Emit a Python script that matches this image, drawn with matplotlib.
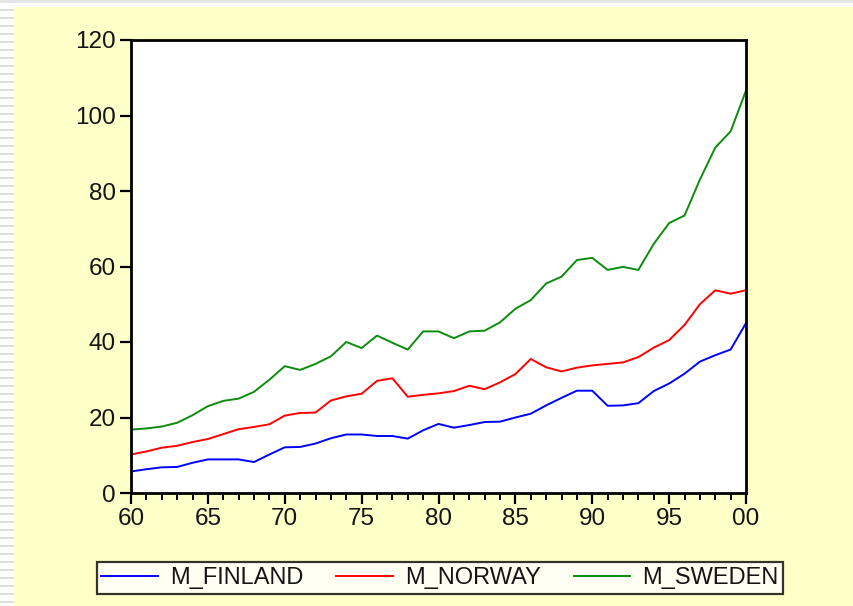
import numpy as np
import matplotlib.pyplot as plt
from matplotlib.patches import Rectangle

plt.rcParams['font.family'] = ['Liberation Sans', 'DejaVu Sans']

# 数据 (1960-2000)
years = np.arange(1960, 2001)
m_finland = [5.7, 6.3, 6.8, 6.9, 8.0, 8.9, 8.9, 8.9, 8.2, 10.2,
             12.1, 12.2, 13.1, 14.5, 15.5, 15.5, 15.1, 15.1, 14.4, 16.6,
             18.3, 17.3, 18.0, 18.8, 18.9, 20.0, 21.0, 23.2, 25.2, 27.1,
             27.1, 23.1, 23.2, 23.8, 27.0, 29.0, 31.6, 34.8, 36.5, 38.0,
             45.0]
m_norway = [10.2, 11.0, 12.0, 12.5, 13.5, 14.3, 15.6, 16.9, 17.5, 18.2,
            20.5, 21.2, 21.3, 24.5, 25.6, 26.3, 29.7, 30.4, 25.5, 26.0,
            26.4, 27.0, 28.4, 27.5, 29.3, 31.5, 35.5, 33.3, 32.2, 33.2,
            33.8, 34.2, 34.6, 36.0, 38.5, 40.5, 44.5, 50.0, 53.7, 52.8,
            53.7]
m_sweden = [16.8, 17.1, 17.6, 18.6, 20.6, 23.0, 24.4, 25.0, 26.8, 30.0,
            33.6, 32.6, 34.2, 36.2, 40.0, 38.4, 41.7, 39.8, 38.0, 42.8,
            42.8, 41.0, 42.8, 43.0, 45.2, 48.8, 51.1, 55.5, 57.3, 61.7,
            62.3, 59.1, 59.9, 59.1, 66.0, 71.5, 73.5, 83.0, 91.5, 95.8,
            106.6]
names = ['M_FINLAND', 'M_NORWAY', 'M_SWEDEN']
colors = ['#0000ff', '#ff0000', '#0c8c0c']

xticks = [1960, 1965, 1970, 1975, 1980, 1985, 1990, 1995, 2000]
xtext = ['60', '65', '70', '75', '80', '85', '90', '95', '00']
yticks = [0, 20, 40, 60, 80, 100, 120]

fig = plt.figure(figsize=(8.54, 6.06), dpi=100)
fig.patch.set_facecolor('#ffffc8')

# 左侧和顶部的窗口边框
fig.patches.append(Rectangle((0, 0), 14 / 854, 1, transform=fig.transFigure,
                             facecolor='white', edgecolor='none', zorder=0))
for k in range(0, 606, 8):
    fig.patches.append(Rectangle((0, 1 - (k + 3) / 606), 14 / 854, 2 / 606,
                                 transform=fig.transFigure,
                                 facecolor='#dcdcdc', edgecolor='none', zorder=0))
fig.patches.append(Rectangle((0, 1 - 7 / 606), 1, 7 / 606, transform=fig.transFigure,
                             facecolor='white', edgecolor='none', zorder=0))
fig.patches.append(Rectangle((0, 1 - 3 / 606), 1, 3 / 606, transform=fig.transFigure,
                             facecolor='#e6e6e6', edgecolor='none', zorder=0))

ax = fig.add_axes([131 / 854, 1 - 493 / 606, 615 / 854, 453 / 606])
ax.set_facecolor('white')

for y, name, c in zip([m_finland, m_norway, m_sweden], names, colors):
    ax.plot(years, y, color=c, linewidth=1.4, label=name)

ax.set_xlim(1960, 2000)
ax.set_ylim(0, 120)
ax.set_xticks(xticks)
ax.set_xticklabels(xtext)
ax.set_xticks(years, minor=True)
ax.set_yticks(yticks)

for s in ax.spines.values():
    s.set_linewidth(2.0)
    s.set_color('black')

ax.tick_params(axis='both', which='major', direction='out', length=8, width=1.6,
               labelsize=17.5, labelcolor='#141414', pad=3)
ax.tick_params(axis='x', which='minor', direction='out', length=5, width=1.4)

# 图例
leg = fig.legend(loc='center', bbox_to_anchor=(440 / 854, 1 - 578 / 606),
                 ncol=3, fontsize=17, frameon=True, fancybox=False,
                 handlelength=2.4, handletextpad=0.5, columnspacing=1.4,
                 borderpad=0.2, borderaxespad=0)
leg.get_frame().set_edgecolor('black')
leg.get_frame().set_linewidth(1.6)
for t in leg.get_texts():
    t.set_color('#141414')

fig.savefig('out.png', dpi=100, facecolor=fig.get_facecolor())
